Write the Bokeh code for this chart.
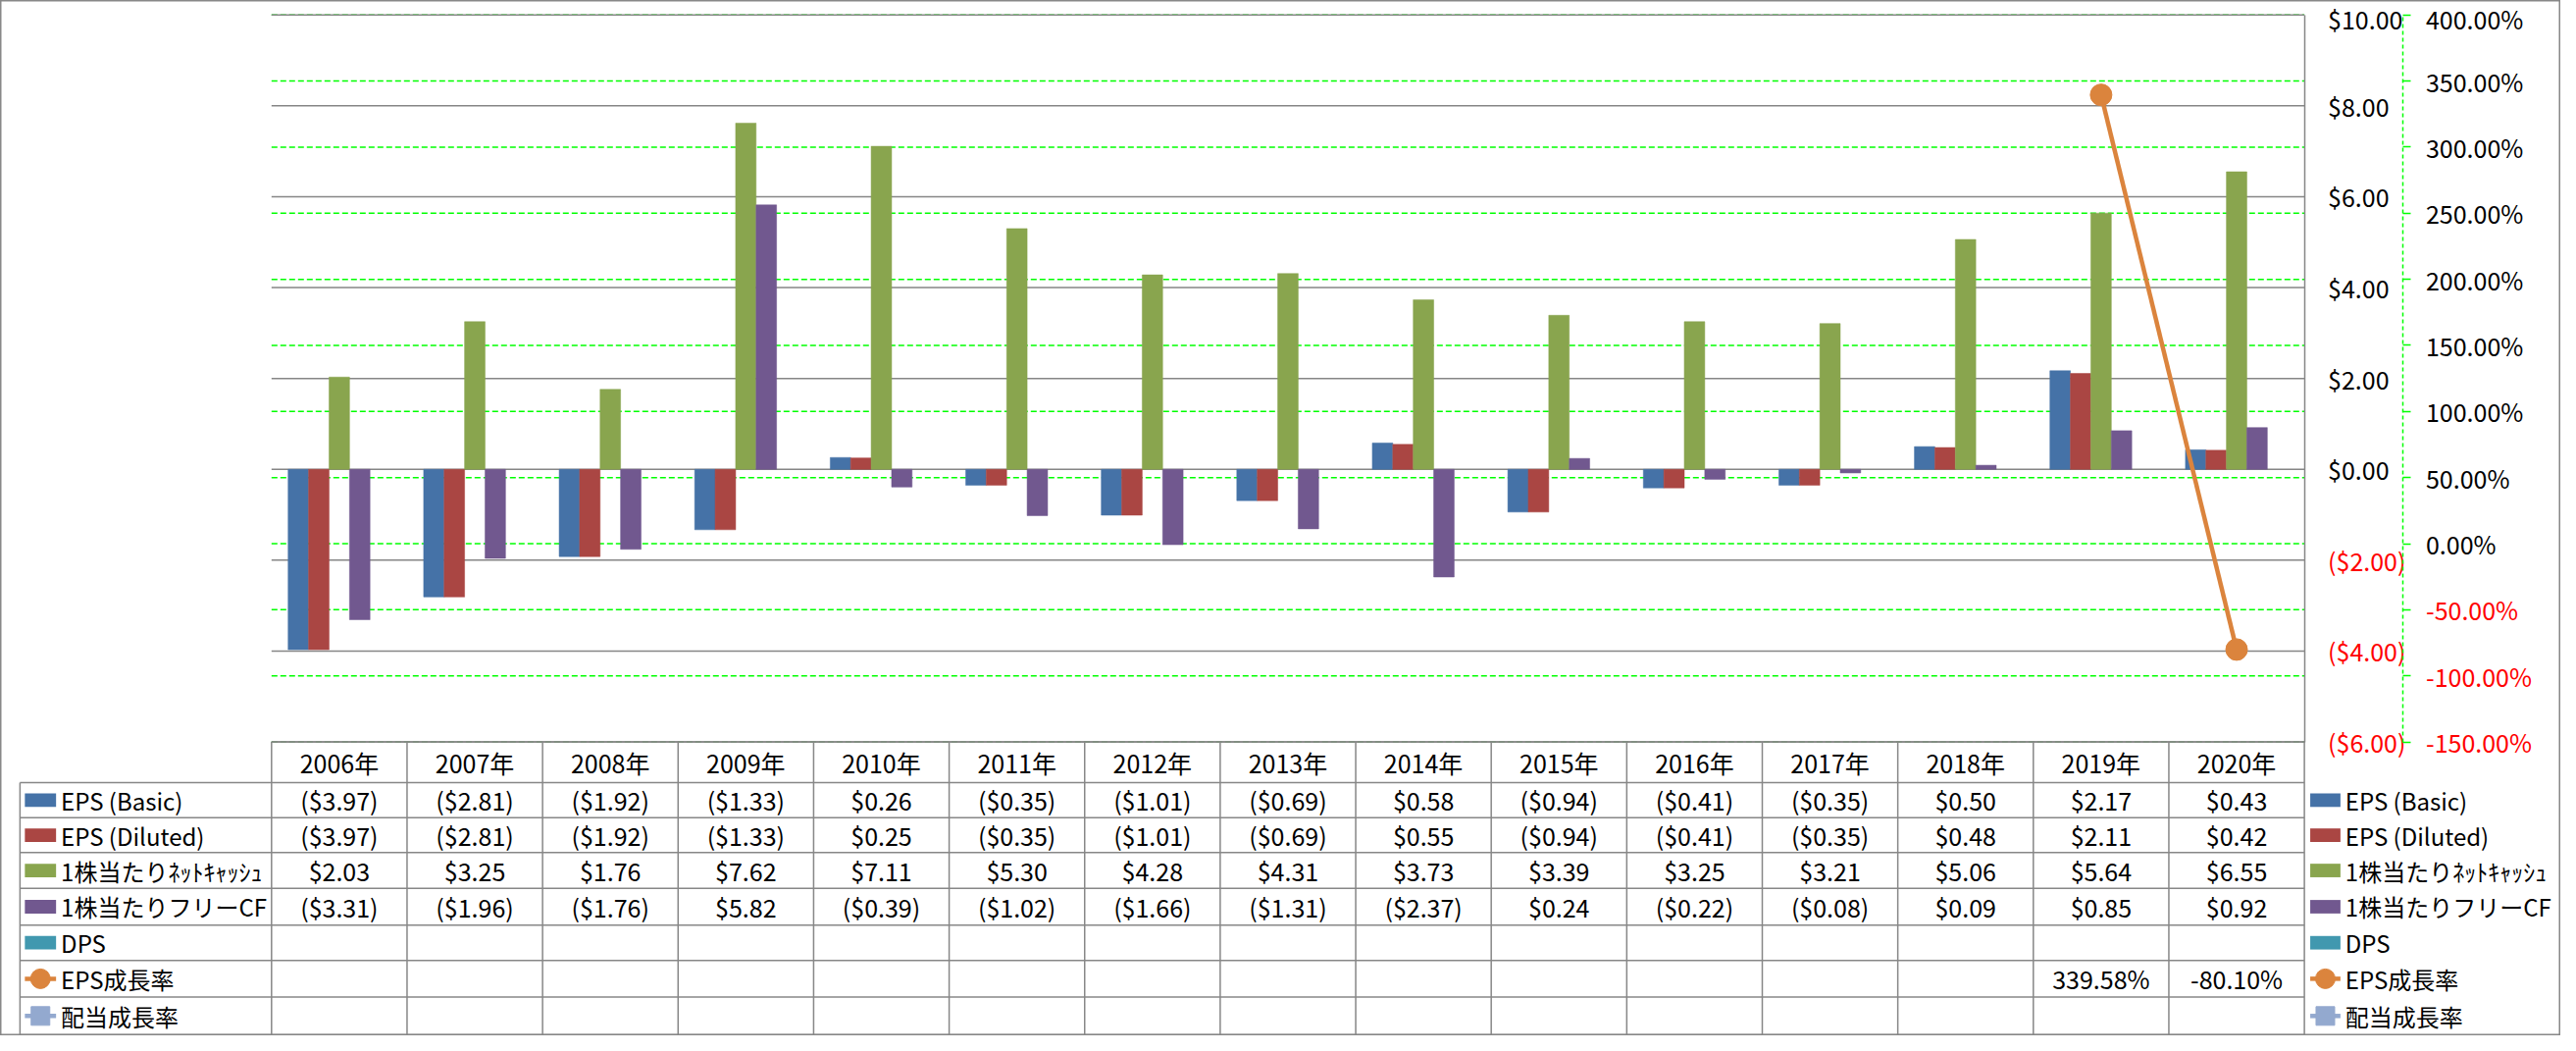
import numpy as np
from bokeh.plotting import figure
from bokeh.models import (Range1d, LinearAxis, FixedTicker, CustomJSTickFormatter)
from bokeh.core.properties import value
from bokeh.embed import file_html
from bokeh.resources import INLINE

# ---------------- data ----------------
years = [f"{y}年" for y in range(2006, 2021)]
eps_basic = [-3.97, -2.81, -1.92, -1.33, 0.26, -0.35, -1.01, -0.69, 0.58, -0.94, -0.41, -0.35, 0.50, 2.17, 0.43]
eps_diluted = [-3.97, -2.81, -1.92, -1.33, 0.25, -0.35, -1.01, -0.69, 0.55, -0.94, -0.41, -0.35, 0.48, 2.11, 0.42]
net_cash_ps = [2.03, 3.25, 1.76, 7.62, 7.11, 5.30, 4.28, 4.31, 3.73, 3.39, 3.25, 3.21, 5.06, 5.64, 6.55]
free_cf_ps = [-3.31, -1.96, -1.76, 5.82, -0.39, -1.02, -1.66, -1.31, -2.37, 0.24, -0.22, -0.08, 0.09, 0.85, 0.92]
dps = [None] * 15
eps_growth = [None] * 13 + [339.58, -80.10]
div_growth = [None] * 15

series_names = ["EPS (Basic)", "EPS (Diluted)", "1株当たりﾈｯﾄｷｬｯｼｭ", "1株当たりフリーCF",
                "DPS", "EPS成長率", "配当成長率"]
series_colors = ["#4572A7", "#AA4643", "#89A54E", "#71588F", "#4198AF", "#DB843D", "#93A9CF"]

dollar_ticks = [-6, -4, -2, 0, 2, 4, 6, 8, 10]
pct_ticks = [-150, -100, -50, 0, 50, 100, 150, 200, 250, 300, 350, 400]

# ---------------- layout (reference pixel geometry) ----------------
REF_W, REF_H = 2626, 1071
FIG_W, FIG_H = 2610, 1055
PL, PR, PT, PB = 278, 2363, 15, 767
TABLE_L = 20
ROW_EDGES = [767, 809, 845.5, 881.5, 918.5, 956.5, 993, 1031, 1070]
PCT_AXIS_X = 2464.5
KEY_L, KEY_R, LABEL_X = 25, 57, 62
RKEY_L, RKEY_R, RLABEL_X = 2369, 2400, 2405
FONT_NAME = "Noto Sans CJK JP"
FONT = value(FONT_NAME)
FS = "25px"
LABEL_FS = "24px"
GRID_GRAY = "#868686"
TABLE_GRAY = "#878787"
LIME = "#00FF00"

n = len(years)
idx = np.arange(n, dtype=float)
CW = (PR - PL) / n
dmin, dmax = dollar_ticks[0], dollar_ticks[-1]
dpp = (PB - PT) / (dmax - dmin)
pmin, pmax = pct_ticks[0], pct_ticks[-1]
ppp = (PB - PT) / (pmax - pmin)

p = figure(width=FIG_W, height=FIG_H, output_backend="svg", toolbar_location=None,
           x_range=Range1d(-0.5 - PL / CW, -0.5 + (REF_W - PL) / CW),
           y_range=Range1d(dmin - (REF_H - PB) / dpp, dmax + PT / dpp),
           x_axis_location=None, y_axis_location=None, min_border=0)
p.extra_x_ranges = {"px": Range1d(0, REF_W)}
p.extra_y_ranges = {"py": Range1d(REF_H, 0),
                    "pct": Range1d(pmin - (REF_H - PB) / ppp, pmax + PT / ppp)}
p.grid.visible = False
p.background_fill_color = "white"
p.border_fill_color = "white"
p.outline_line_color = "#888888"
p.outline_line_width = 2


def arr(v):
    return np.array([np.nan if x is None else x for x in v], dtype=float)


# gridlines
p.segment(x0=[-0.5] * len(pct_ticks), x1=[n - 0.5] * len(pct_ticks), y0=pct_ticks, y1=pct_ticks,
          y_range_name="pct", line_color=LIME, line_width=1.5, line_dash="6 3")
p.segment(x0=[-0.5] * len(dollar_ticks), x1=[n - 0.5] * len(dollar_ticks), y0=dollar_ticks,
          y1=dollar_ticks, line_color=GRID_GRAY, line_width=1.5)

# bars
bar_series = [eps_basic, eps_diluted, net_cash_ps, free_cf_ps, dps]
bw = 0.151
for k, (vals, col) in enumerate(zip(bar_series, series_colors[:5])):
    a = arr(vals)
    m = ~np.isnan(a)
    if m.any():
        p.vbar(x=idx[m] + (k - 2) * bw, top=a[m], bottom=0, width=bw,
               fill_color=col, line_color=col, line_width=0.5)

# growth line
eg = arr(eps_growth)
p.line(x=idx, y=eg, y_range_name="pct", line_color=series_colors[5], line_width=4.5)
mg = ~np.isnan(eg)
p.scatter(x=idx[mg], y=eg[mg], y_range_name="pct", marker="circle", size=22,
          fill_color=series_colors[5], line_color=series_colors[5])
dg = arr(div_growth)
if (~np.isnan(dg)).any():
    p.line(x=idx, y=dg, y_range_name="pct", line_color=series_colors[6], line_width=4.5)

# axes
fmt_d = CustomJSTickFormatter(code="return tick < 0 ? '($' + (-tick).toFixed(2) + ')' : '$' + tick.toFixed(2);")
fmt_p = CustomJSTickFormatter(code="return tick.toFixed(2) + '%';")


def add_axis(ticks, fmt, color, yname, loc, standoff, bounds, line_color, dash, tick_out):
    ax = LinearAxis(ticker=FixedTicker(ticks=ticks), formatter=fmt, fixed_location=loc,
                    x_range_name="px", y_range_name=yname, bounds=bounds)
    ax.axis_line_color = line_color
    ax.axis_line_width = 1.5
    ax.axis_line_dash = dash
    ax.major_tick_out = tick_out
    ax.major_tick_in = 0
    ax.major_tick_line_color = LIME if tick_out else None
    ax.major_tick_line_width = 1.5
    ax.minor_tick_line_color = None
    ax.major_label_standoff = standoff
    ax.major_label_text_font = FONT_NAME
    ax.major_label_text_font_size = FS
    ax.major_label_text_color = color
    p.add_layout(ax, "right")


pos_d = [t for t in dollar_ticks if t >= 0]
neg_d = [t for t in dollar_ticks if t < 0]
pos_p = [t for t in pct_ticks if t >= 0]
neg_p = [t for t in pct_ticks if t < 0]
add_axis(pos_d, fmt_d, "black", "default", PR, 24, (dmin, dmax), GRID_GRAY, "solid", 0)
add_axis(neg_d, fmt_d, "#FF0000", "default", PR, 24, (dmin, dmax), None, "solid", 0)
add_axis(pos_p, fmt_p, "black", "pct", PCT_AXIS_X, 15, (pmin, pmax), LIME, "4 3", 8)
add_axis(neg_p, fmt_p, "#FF0000", "pct", PCT_AXIS_X, 15, (pmin, pmax), None, "solid", 8)

# ---------------- data table ----------------
hy = ROW_EDGES[1:]
p.segment(x0=[TABLE_L] * len(hy), x1=[PR] * len(hy), y0=hy, y1=hy,
          x_range_name="px", y_range_name="py", line_color=TABLE_GRAY, line_width=1.5)
p.segment(x0=[-0.5], x1=[n - 0.5], y0=[ROW_EDGES[0]], y1=[ROW_EDGES[0]],
          y_range_name="py", line_color=TABLE_GRAY, line_width=1.5)
vx = list(np.arange(n + 1) - 0.5)
p.segment(x0=vx, x1=vx, y0=[ROW_EDGES[0]] * len(vx), y1=[ROW_EDGES[-1]] * len(vx),
          y_range_name="py", line_color=TABLE_GRAY, line_width=1.5)
p.segment(x0=[TABLE_L], x1=[TABLE_L], y0=[ROW_EDGES[1]], y1=[ROW_EDGES[-1]],
          x_range_name="px", y_range_name="py", line_color=TABLE_GRAY, line_width=1.5)

centers = [(ROW_EDGES[i] + ROW_EDGES[i + 1]) / 2 for i in range(len(ROW_EDGES) - 1)]

p.text(x=idx, y=[centers[0]] * n, text=years, y_range_name="py", text_font=FONT,
       text_font_size=FS, text_align="center", text_baseline="middle", text_color="black")


def fmt_dollar(v):
    if v is None:
        return ""
    return f"(${-v:.2f})" if v < 0 else f"${v:.2f}"


def fmt_pct(v):
    return "" if v is None else f"{v:.2f}%"


table_rows = [[fmt_dollar(v) for v in s] for s in bar_series] + \
             [[fmt_pct(v) for v in eps_growth], [fmt_pct(v) for v in div_growth]]
for r, row in enumerate(table_rows):
    yc = centers[r + 1]
    xs = [i for i, t in enumerate(row) if t]
    if xs:
        p.text(x=xs, y=[yc] * len(xs), text=[row[i] for i in xs], y_range_name="py",
               text_font=FONT, text_font_size=FS, text_align="center",
               text_baseline="middle", text_color="black")

# legend keys (left in table, and right-hand legend)
row_y = centers[1:]
for kl, kr, lx in [(KEY_L, KEY_R, LABEL_X), (RKEY_L, RKEY_R, RLABEL_X)]:
    kc = (kl + kr) / 2
    p.rect(x=[kc] * 5, y=row_y[:5], width=kr - kl, height=14, x_range_name="px",
           y_range_name="py", fill_color=series_colors[:5], line_color=None)
    p.segment(x0=[kl, kl], x1=[kr, kr], y0=row_y[5:7], y1=row_y[5:7], x_range_name="px",
              y_range_name="py", line_color=series_colors[5:7], line_width=4.5)
    p.scatter(x=[kc], y=[row_y[5]], marker="circle", size=20, x_range_name="px",
              y_range_name="py", fill_color=series_colors[5], line_color=series_colors[5])
    p.scatter(x=[kc], y=[row_y[6]], marker="square", size=19, x_range_name="px",
              y_range_name="py", fill_color=series_colors[6], line_color=series_colors[6])
    p.text(x=[lx] * 7, y=row_y, text=series_names, x_range_name="px", y_range_name="py",
           text_font=FONT, text_font_size=LABEL_FS, text_align="left", text_baseline="middle",
           text_color="black")

with open("out.html", "w", encoding="utf-8") as f:
    f.write(file_html(p, INLINE))
